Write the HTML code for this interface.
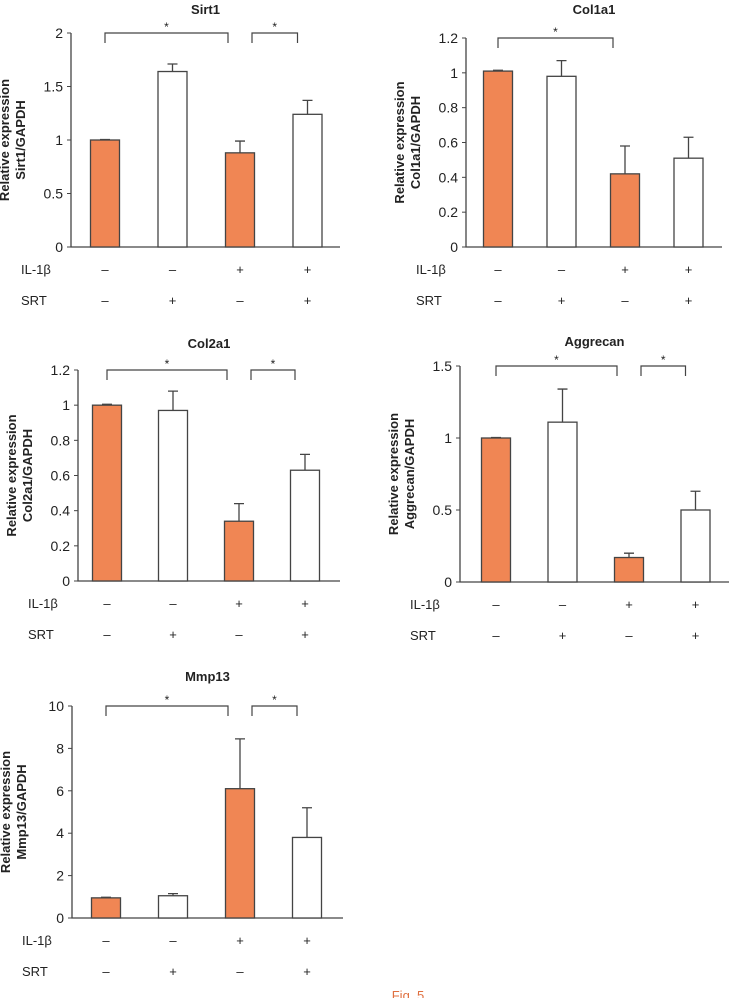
<!DOCTYPE html>
<html><head><meta charset="utf-8"><style>
body{margin:0;background:#fff;width:729px;height:998px;overflow:hidden}
svg text{font-family:"Liberation Sans",sans-serif;fill:#222}
</style></head><body>
<svg id="fig" width="729" height="998" xmlns="http://www.w3.org/2000/svg"></svg>
<script>
const categories = ["ctrl","SRT","IL-1b","IL-1b+SRT"];
const il1bRow = ["\u2013","\u2013","+","+"];
const srtRow = ["\u2013","+","\u2013","+"];
const sirt1Vals = [1.0,1.64,0.88,1.24];
const sirt1Err = [0.005,0.07,0.11,0.13];
const sirt1Ticks = [0,0.5,1,1.5,2];
const col1a1Vals = [1.01,0.98,0.42,0.51];
const col1a1Err = [0.005,0.09,0.16,0.12];
const col1a1Ticks = [0,0.2,0.4,0.6,0.8,1,1.2];
const col2a1Vals = [1.0,0.97,0.34,0.63];
const col2a1Err = [0.005,0.11,0.10,0.09];
const col2a1Ticks = [0,0.2,0.4,0.6,0.8,1,1.2];
const aggVals = [1.0,1.11,0.17,0.50];
const aggErr = [0.003,0.23,0.03,0.13];
const aggTicks = [0,0.5,1,1.5];
const mmpVals = [0.95,1.05,6.1,3.8];
const mmpErr = [0.03,0.1,2.35,1.4];
const mmpTicks = [0,2,4,6,8,10];

const NS="http://www.w3.org/2000/svg";
const svg=document.getElementById('fig');
function mk(tag,attrs,parent){const e=document.createElementNS(NS,tag);for(const k in attrs)e.setAttribute(k,attrs[k]);(parent||svg).appendChild(e);return e;}

function panel(p){
  const g=mk('g',{});
  
  
  const max=p.ticks[p.ticks.length-1];
  const y=v=>p.y0-(v/max)*(p.y0-p.yTop);
  const x=i=>p.x0+p.first+i*p.step;
  // title
  const t=mk('text',{x:(p.x0+p.xEnd)/2,y:p.titleY,'text-anchor':'middle','font-size':13,'font-weight':'bold'},g);
  t.textContent=p.title;
  
  
  // y label
  const yl=mk('text',{transform:`translate(${p.x0-58},${(p.y0+p.yTop)/2}) rotate(-90)`,'text-anchor':'middle','font-size':13,'font-weight':'bold'},g);
  
  
  const s1=mk('tspan',{x:0,dy:-4},yl);s1.textContent='Relative expression';
  const s2=mk('tspan',{x:0,dy:16},yl);s2.textContent=p.ylab;
  // axes
  const ax=mk('path',{d:`M${p.x0},${p.yTop} V${p.y0} H${p.xEnd}`,stroke:'#444',fill:'none','stroke-width':1.3},g);
  
  
  p.ticks.forEach(v=>{
    mk('line',{x1:p.x0-4,x2:p.x0,y1:y(v),y2:y(v),stroke:'#444'},g);
    const tl=mk('text',{x:p.x0-8,y:y(v)+5,'text-anchor':'end','font-size':14},g);
    tl.textContent=String(v);
    
    
  });
  p.vals.forEach((v,i)=>{
    const cx=x(i),w=29;
    const eb=mk('path',{d:`M${cx},${y(v)} V${y(v+p.err[i])} M${cx-5},${y(v+p.err[i])} H${cx+5}`,stroke:'#444','stroke-width':1.3,fill:'none'},g);
    
    
    const r=mk('rect',{x:cx-w/2,y:y(v),width:w,height:p.y0-y(v),fill:i%2===0?'#f08654':'#fff',stroke:'#444','stroke-width':1.3},g);
    
    
    const a=mk('text',{x:cx,y:p.y0+27,'text-anchor':'middle','font-size':13},g);a.textContent=il1bRow[i];
    
    
    const b=mk('text',{x:cx,y:p.y0+58,'text-anchor':'middle','font-size':13},g);b.textContent=srtRow[i];
    
    
  });
  const l1=mk('text',{x:p.x0-50,y:p.y0+27,'font-size':13},g);l1.textContent='IL-1\u03b2';
  
  
  const l2=mk('text',{x:p.x0-50,y:p.y0+58,'font-size':13},g);l2.textContent='SRT';
  
  
  p.brackets.forEach(br=>{
    const a=x(br[0])-1,b=x(br[1])-12+(br[1]===3&&br[0]===2?0:0);
    const xa=br[0]===2?x(2)+12:x(br[0]), xb=br[1]===2?x(2)-12:x(br[1])-10;
    const by=p.yTop;
    const bp=mk('path',{d:`M${xa},${by+10} V${by} H${xb} V${by+10}`,stroke:'#444',fill:'none','stroke-width':1.2},g);
    
    
    const st=mk('text',{x:(xa+xb)/2,y:by-2,'text-anchor':'middle','font-size':12},g);st.textContent='*';
    
    
  });
}
panel({id:'sirt1',title:'Sirt1',ylab:'Sirt1/GAPDH',x0:71,xEnd:340,y0:247,yTop:33,first:34,step:67.5,titleY:14,ticks:sirt1Ticks,vals:sirt1Vals,err:sirt1Err,brackets:[[0,2],[2,3]]});
panel({id:'col1a1',title:'Col1a1',ylab:'Col1a1/GAPDH',x0:466,xEnd:722,y0:247,yTop:38,first:32,step:63.5,titleY:14,ticks:col1a1Ticks,vals:col1a1Vals,err:col1a1Err,brackets:[[0,2]]});
panel({id:'col2a1',title:'Col2a1',ylab:'Col2a1/GAPDH',x0:78,xEnd:340,y0:581,yTop:370,first:29,step:66,titleY:348,ticks:col2a1Ticks,vals:col2a1Vals,err:col2a1Err,brackets:[[0,2],[2,3]]});
panel({id:'aggrecan',title:'Aggrecan',ylab:'Aggrecan/GAPDH',x0:460,xEnd:729,y0:582,yTop:366,first:36,step:66.5,titleY:346,ticks:aggTicks,vals:aggVals,err:aggErr,brackets:[[0,2],[2,3]]});
panel({id:'mmp13',title:'Mmp13',ylab:'Mmp13/GAPDH',x0:72,xEnd:343,y0:918,yTop:706,first:34,step:67,titleY:681,ticks:mmpTicks,vals:mmpVals,err:mmpErr,brackets:[[0,2],[2,3]]});
const cap=mk('text',{x:408,y:1000,'text-anchor':'middle','font-size':13,fill:'#e07040'});


cap.style.fill='#e07040';
cap.textContent='Fig. 5';
</script>
</body></html>
